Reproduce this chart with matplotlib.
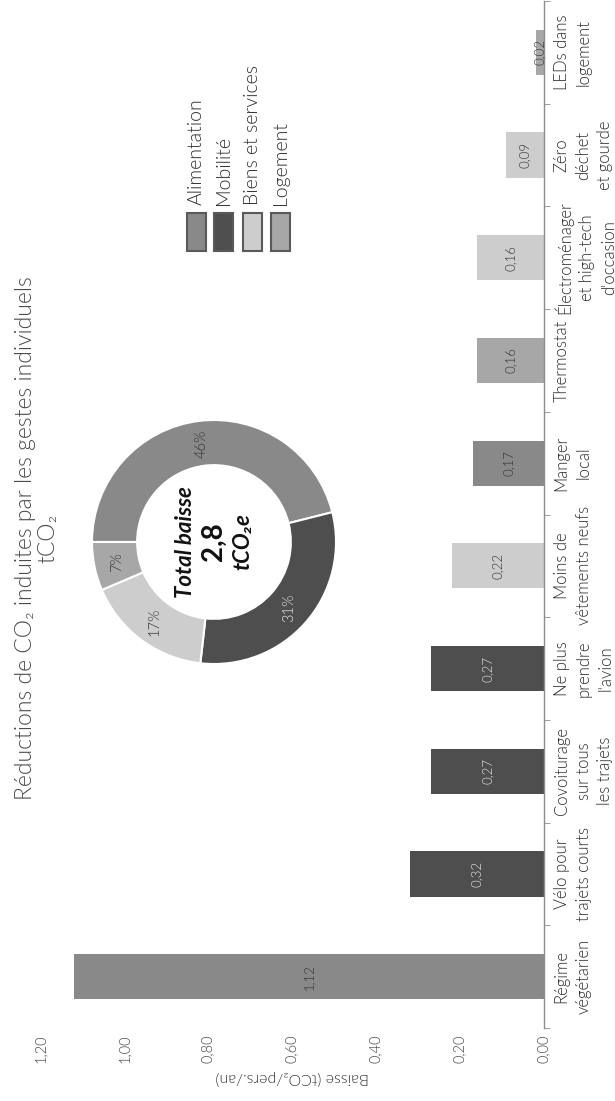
import numpy as np
import matplotlib
matplotlib.use("Agg")
import matplotlib.pyplot as plt
from matplotlib.patches import Rectangle

# chart data
categories = ["Régime\nvégétarien", "Vélo pour\ntrajets courts",
              "Covoiturage\nsur tous\nles trajets", "Ne plus\nprendre\nl'avion",
              "Moins de\nvêtements neufs", "Manger\nlocal", "Thermostat",
              "Électroménager\net high-tech\nd'occasion", "Zéro\ndéchet\net gourde",
              "LEDs dans\nlogement"]
values = [1.12, 0.32, 0.27, 0.27, 0.22, 0.17, 0.16, 0.16, 0.09, 0.02]
value_labels = ["1,12", "0,32", "0,27", "0,27", "0,22", "0,17", "0,16", "0,16", "0,09", "0,02"]
groups = ["Alimentation", "Mobilité", "Mobilité", "Mobilité", "Biens et services",
          "Alimentation", "Logement", "Biens et services", "Biens et services", "Logement"]
group_names = ["Alimentation", "Mobilité", "Biens et services", "Logement"]
group_colors = ["#898989", "#4e4e4e", "#cdcdcd", "#a7a7a7"]
group_text_colors = ["#333333", "#e6e6e6", "#333333", "#333333"]
donut_labels = ["46%", "31%", "17%", "7%"]
value_ticks = [0.0, 0.2, 0.4, 0.6, 0.8, 1.0, 1.2]
value_tick_labels = ["0,00", "0,20", "0,40", "0,60", "0,80", "1,00", "1,20"]

W, H = 615, 1101
LIGHT = 300
plt.rcParams["font.family"] = ["Lato", "DejaVu Sans"]


def fx(px):
    return px / W


def fy(py):
    return 1 - py / H


fig = plt.figure(figsize=(W / 100, H / 100), dpi=100)

# ---- bar chart (drawn rotated: values grow to the left) ----
ax = fig.add_axes([fx(40), fy(1028), (544 - 40) / W, (1028 - 1) / H])
ypos = np.arange(len(values))
gcol = {g: c for g, c in zip(group_names, group_colors)}
gtxt = {g: c for g, c in zip(group_names, group_text_colors)}
ax.barh(ypos, values, height=0.44, color=[gcol[g] for g in groups])
ax.set_xlim(1.2, 0)
ax.set_ylim(-0.5, len(values) - 0.5)

for i, (v, lab, g) in enumerate(zip(values, value_labels, groups)):
    ax.text(v / 2, i, lab, rotation=90, ha="center", va="center",
            fontsize=9.5, color=gtxt[g], fontweight=LIGHT)

for s in ["left", "top", "bottom"]:
    ax.spines[s].set_visible(False)
ax.spines["right"].set_color("#8c8c8c")
ax.spines["right"].set_linewidth(1.0)

ax.yaxis.tick_right()
ax.set_yticks(ypos, labels=categories)
ax.set_yticks(np.arange(-0.5, len(values), 1.0), minor=True)
ax.tick_params(axis="y", which="major", length=0, pad=7)
ax.tick_params(axis="y", which="minor", length=4, color="#8c8c8c", direction="out")
for t in ax.get_yticklabels():
    t.set_rotation(90)
    t.set_ha("left")
    t.set_va("center")
    t.set_multialignment("center")
    t.set_linespacing(1.45)
    t.set_fontsize(12)
    t.set_color("#2e2e2e")
    t.set_fontweight(LIGHT)

ax.set_xticks(value_ticks, labels=value_tick_labels)
ax.tick_params(axis="x", length=0, pad=5)
for t in ax.get_xticklabels():
    t.set_rotation(90)
    t.set_va("top")
    t.set_ha("center")
    t.set_fontsize(10.5)
    t.set_color("#444444")
    t.set_fontweight(LIGHT)
ax.set_xlabel("Baisse (tCO₂/pers./an)", rotation=180, fontsize=11.5,
              color="#333333", labelpad=5, fontweight=LIGHT)

# ---- donut ----
totals = [sum(v for v, g in zip(values, groups) if g == name) for name in group_names]
cx, cy, r = 214, 542, 122
box = 2.5 * r
ax2 = fig.add_axes([fx(cx - box / 2), fy(cy + box / 2), box / W, box / H])
wedges, _ = ax2.pie(totals, colors=group_colors, startangle=180, counterclock=False,
                    wedgeprops=dict(width=0.37, edgecolor="white", linewidth=1.5))
for w, lab, tc in zip(wedges, donut_labels, group_text_colors):
    ang = np.deg2rad((w.theta1 + w.theta2) / 2)
    ax2.text(0.815 * np.cos(ang), 0.815 * np.sin(ang), lab, rotation=90,
             ha="center", va="center", fontsize=10.5, color=tc, fontweight=LIGHT)

fig.text(fx(186), fy(cy), "Total baisse", rotation=90, ha="center", va="center",
         fontsize=16, fontweight="bold", fontstyle="italic", color="#111111")
fig.text(fx(214), fy(cy), "2,8", rotation=90, ha="center", va="center",
         fontsize=20, fontweight="bold", color="#111111")
fig.text(fx(243), fy(cy), "tCO₂e", rotation=90, ha="center", va="center",
         fontsize=16, fontweight="bold", fontstyle="italic", color="#111111")

# ---- title ----
fig.text(fx(37), fy(538), "Réductions de CO₂ induites par les gestes individuels\ntCO₂",
         rotation=90, ha="center", va="center", multialignment="center",
         fontsize=16.5, color="#4a4a4a", fontweight=LIGHT, linespacing=1.1)

# ---- legend ----
leg_x = [187, 214, 243, 271]
for x0, name, col in zip(leg_x, group_names, group_colors):
    fig.add_artist(Rectangle((fx(x0), fy(251)), 19 / W, 38 / H, transform=fig.transFigure,
                             facecolor=col, edgecolor="#5a5a5a", linewidth=1.5))
    fig.text(fx(x0 + 9.5), fy(205), name, rotation=90, ha="center", va="bottom",
             fontsize=14, color="#2e2e2e", fontweight=LIGHT)

fig.savefig("out.png", dpi=100, facecolor="white")
